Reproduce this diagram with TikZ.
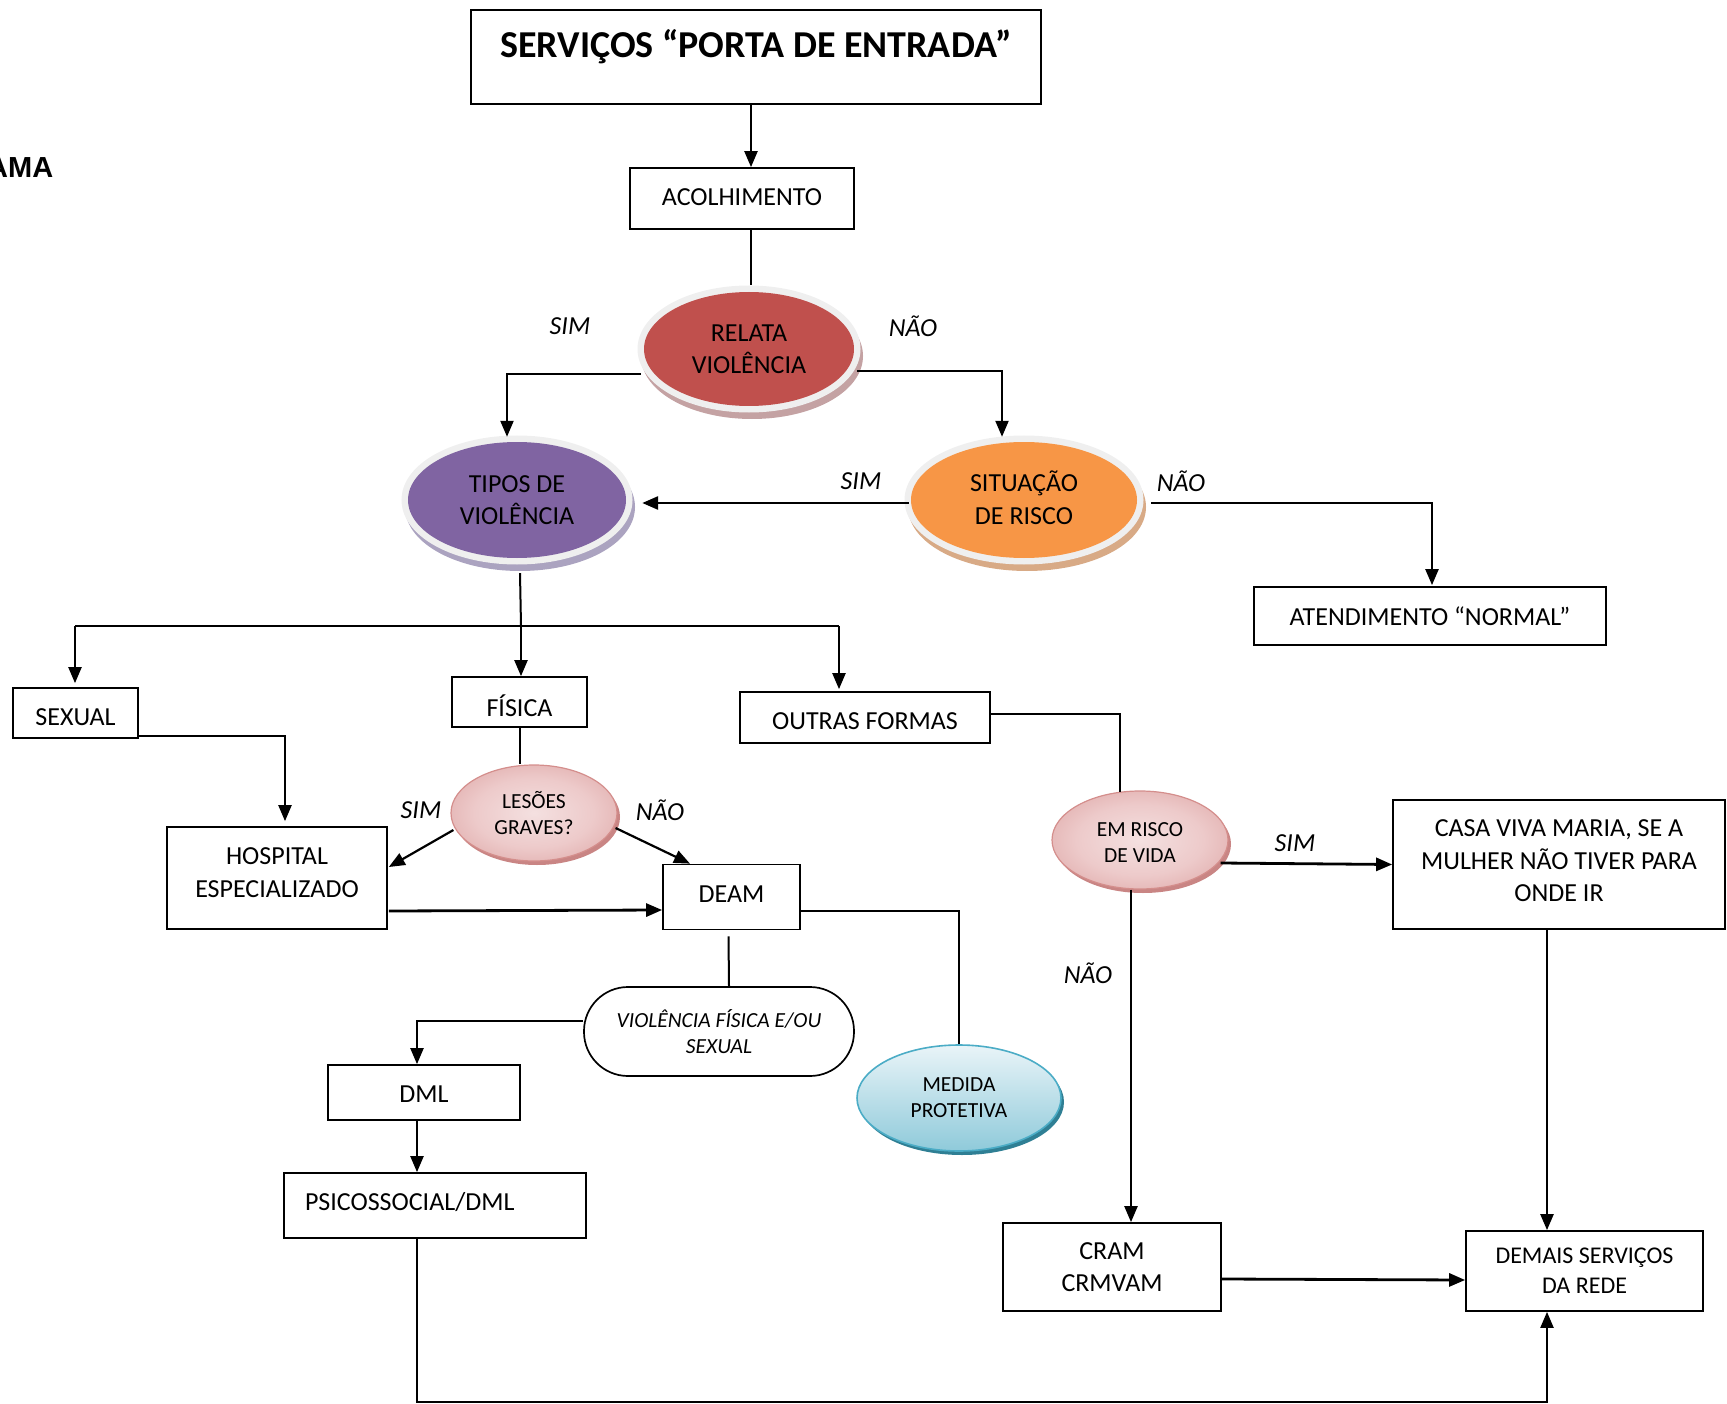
\documentclass[tikz,border=0pt]{standalone}
\usepackage{fontspec}
\setmainfont{Carlito}
\newfontfamily\arialfam{Liberation Sans}
\usetikzlibrary{shapes.geometric,arrows.meta,calc}
\definecolor{relRed}{HTML}{C0504D}
\definecolor{tipPurple}{HTML}{8064A2}
\definecolor{sitOrange}{HTML}{F79646}
\definecolor{haloGray}{HTML}{EFEFEF}
\definecolor{shRed}{HTML}{C4A2A3}
\definecolor{shPurple}{HTML}{ABA3C0}
\definecolor{shOrange}{HTML}{D8AA86}
\definecolor{pinkIn}{HTML}{F4E0E0}
\definecolor{pinkMid}{HTML}{EDCACA}
\definecolor{pinkOut}{HTML}{DCA2A1}
\definecolor{pinkBd}{HTML}{D48E8C}
\definecolor{pinkSh}{HTML}{C98584}
\definecolor{medTop}{HTML}{E9F4F8}
\definecolor{medBot}{HTML}{8FCADA}
\definecolor{medBd}{HTML}{4BACC6}
\definecolor{medSh}{HTML}{2F7F94}
\pgfdeclareradialshading{pinkrad}{\pgfpoint{0bp}{0bp}}{color(0bp)=(pinkIn); color(18bp)=(pinkMid); color(36bp)=(pinkOut); color(50bp)=(pinkOut)}
\newcommand\ftxt{\fontsize{26}{32.5}\selectfont}
\newcommand\fmid{\fontsize{24}{30}\selectfont}
\newcommand\fsml{\fontsize{21.5}{26}\selectfont}
% shift text up (positive) or down (negative) without changing its reported size
\newcommand\mvtxt[2]{\raisebox{#1}[\height][\depth]{#2}}
\newcommand\lines[2]{\raisebox{#1}[\height][\depth]{\begin{tabular}{@{}c@{}}#2\end{tabular}}}
\begin{document}
\begin{tikzpicture}[x=1pt,y=-1pt,
  box/.style={draw, line width=1.7pt, inner sep=0pt, align=center, font=\ftxt},
  halo/.style 2 args={ellipse, inner sep=0pt, fill=#1, align=center, font=\ftxt,
    preaction={draw=#2, fill=#2, line width=12pt, transform canvas={shift={(3pt,-7pt)}}},
    preaction={draw=haloGray, line width=13pt}},
  pinkell/.style={ellipse, inner sep=0pt, draw=pinkBd, line width=1.2pt, shading=pinkrad, align=center, font=\fsml,
    preaction={fill=pinkSh, transform canvas={shift={(3pt,-4pt)}}}},
  ln/.style={line width=2pt},
  arr/.style={line width=2.2pt, -{Triangle[length=16pt,width=13pt]}},
  lab/.style={inner sep=0pt, font=\ftxt\itshape}
]
\useasboundingbox (0,0) rectangle (1727,1404);

% text at far left, partly cut as in the reference
\node[anchor=base west, inner sep=0pt, font=\arialfam\bfseries\fontsize{29}{34}\selectfont] (ama) at (-13,178) {AMA};

% boxes
\node[box, minimum width=570pt, minimum height=94pt] (serv) at (756,57) {};
\node[inner sep=0pt, font=\bfseries\fontsize{38}{44}\selectfont] (servT) at (756,47) {SERVIÇOS “PORTA DE ENTRADA”};
\node[box, minimum width=224pt, minimum height=61pt] (acol) at (742,198.5) {\mvtxt{1pt}{ACOLHIMENTO}};
\node[box, minimum width=352pt, minimum height=58pt] (aten) at (1430,616) {ATENDIMENTO “NORMAL”};
\node[box, minimum width=125pt, minimum height=50pt] (sex) at (75.5,713) {\mvtxt{-4.5pt}{SEXUAL}};
\node[box, minimum width=135pt, minimum height=50pt] (fis) at (519.5,702) {\mvtxt{-3.3pt}{FÍSICA}};
\node[box, minimum width=250pt, minimum height=51pt] (out) at (865,717.5) {\mvtxt{-3.3pt}{OUTRAS FORMAS}};
\node[box, minimum width=220pt, minimum height=102pt] (hosp) at (277,878) {\lines{3.5pt}{HOSPITAL\\ESPECIALIZADO}};
\node[box, minimum width=137pt, minimum height=65pt] (deam) at (731.5,897) {\mvtxt{3pt}{DEAM}};
\node[box, rounded corners=44pt, minimum width=270pt, minimum height=89pt, font=\fsml\itshape] (viol) at (719,1031.5) {VIOLÊNCIA FÍSICA E/OU\\SEXUAL};
\node[box, minimum width=192pt, minimum height=55pt] (dml) at (424,1092.5) {\mvtxt{-2pt}{DML}};
\node[box, minimum width=302pt, minimum height=65pt, text width=260pt, align=left] (psi) at (435,1205.5) {\mvtxt{3.3pt}{PSICOSSOCIAL/DML}};
\node[box, minimum width=332pt, minimum height=129pt] (casa) at (1559,864.5) {\lines{2pt}{CASA VIVA MARIA, SE A\\MULHER NÃO TIVER PARA\\ONDE IR}};
\node[box, minimum width=218pt, minimum height=88pt] (cram) at (1112,1267) {CRAM\\CRMVAM};
\node[box, minimum width=237pt, minimum height=80pt, font=\fmid] (dem) at (1584.5,1271) {DEMAIS SERVIÇOS\\DA REDE};

% ellipses
\node[halo={relRed}{shRed}, minimum width=210pt, minimum height=114pt] (rel) at (749,349) {RELATA\\VIOLÊNCIA};
\node[halo={tipPurple}{shPurple}, minimum width=218pt, minimum height=116pt] (tip) at (517,500) {TIPOS DE\\VIOLÊNCIA};
\node[halo={sitOrange}{shOrange}, minimum width=226pt, minimum height=116pt] (sit) at (1024,500) {\lines{-1.5pt}{SITUAÇÃO\\DE RISCO}};
\node[pinkell, minimum width=166pt, minimum height=96pt] (les) at (534,813) {LESÕES\\GRAVES?};
\node[pinkell, minimum width=176pt, minimum height=98pt] (risk) at (1140,840) {\lines{-4.5pt}{EM RISCO\\DE VIDA}};
\node[ellipse, inner sep=0pt, draw=medBd, line width=1.6pt, top color=medTop, bottom color=medBot, align=center, font=\fsml,
  preaction={fill=medSh, transform canvas={shift={(3pt,-4pt)}}},
  minimum width=204pt, minimum height=106pt] (med) at (959,1098) {MEDIDA\\PROTETIVA};

% junction coordinates
\coordinate (jL) at (75,626);
\coordinate (jM) at (521,626);
\coordinate (jR) at (839,626);

% connectors
\draw[arr] ($(serv.south)+(-5,0)$) -- ($(acol.north)+(9,0)$);
\draw[ln] ($(acol.south)+(9,0)$) -- ($(rel.north)+(2,-7)$);
\draw[arr] ($(rel.west)+(-3,25)$) -| ($(tip.north)+(-10,-5)$);
\draw[arr] ($(rel.east)+(3,22)$) -| ($(sit.north)+(-22,-5)$);
\draw[arr, line width=2.8pt] ($(sit.west)+(-2,3)$) -- ($(tip.east)+(16,3)$);
\draw[arr] ($(sit.east)+(14,3)$) -| ($(aten.north)+(2,-1)$);
\draw[ln] ($(tip.south)+(3,15)$) -- (jM);
\draw[ln] (jL) -- (jR);
\draw[arr, shorten >=4pt] (jL) -- (jL |- sex.north);
\draw[arr] (jM) -- (jM |- fis.north);
\draw[arr, shorten >=2pt] (jR) -- (jR |- out.north);
\draw[arr, shorten >=5pt] ($(sex.east)+(0,23)$) -| ($(hosp.north)+(8,0)$);
\draw[ln] (fis.south) -- (fis.south |- les.north);
\draw[arr] ($(les.west)+(3,17)$) -- ($(hosp.east)+(1,-11)$);
\draw[arr] ($(les.east)+(-2,15)$) -- ($(deam.north)+(-41.5,0)$);
\draw[arr, line width=2.8pt] ($(hosp.east)+(1,33)$) -- ($(deam.west)+(0,13)$);
\draw[ln] ($(deam.east)+(0,14)$) -| (med.north);
\draw[ln] ($(deam.south)+(-3,6)$) -- ($(viol.north)+(10,0)$);
\draw[arr] ($(viol.west)+(0,-10.5)$) -| ($(dml.north)+(-7,0)$);
\draw[arr] ($(dml.south)+(-7,0)$) -- ($(psi.north)+(-18,0)$);
\draw[arr] ($(psi.south)+(-18,0)$) -- ++(0,163) -| ($(dem.south)+(-37.5,0)$);
\draw[ln] ($(out.east)+(0,-4)$) -| ($(risk.north)+(-20,2)$);
\draw[arr, line width=2.8pt] ($(risk.east)+(-8,23)$) -- (casa.west);
\draw[arr] ($(risk.south)+(-9,0)$) -- ($(cram.north)+(19,0)$);
\draw[arr] ($(casa.south)+(-12,0)$) -- ($(dem.north)+(-37.5,0)$);
\draw[arr, line width=2.8pt] ($(cram.east)+(0,12)$) -- ($(dem.west)+(0,9)$);

% labels
\node[lab] (l1) at (570,326) {SIM};
\node[lab] (l2) at (913,326) {NÃO};
\node[lab] (l3) at (861,481) {SIM};
\node[lab] (l4) at (1181,481) {NÃO};
\node[lab] (l5) at (421,810) {SIM};
\node[lab] (l6) at (660,810) {NÃO};
\node[lab] (l7) at (1295,843) {SIM};
\node[lab] (l8) at (1088,973) {NÃO};
\end{tikzpicture}
\end{document}
